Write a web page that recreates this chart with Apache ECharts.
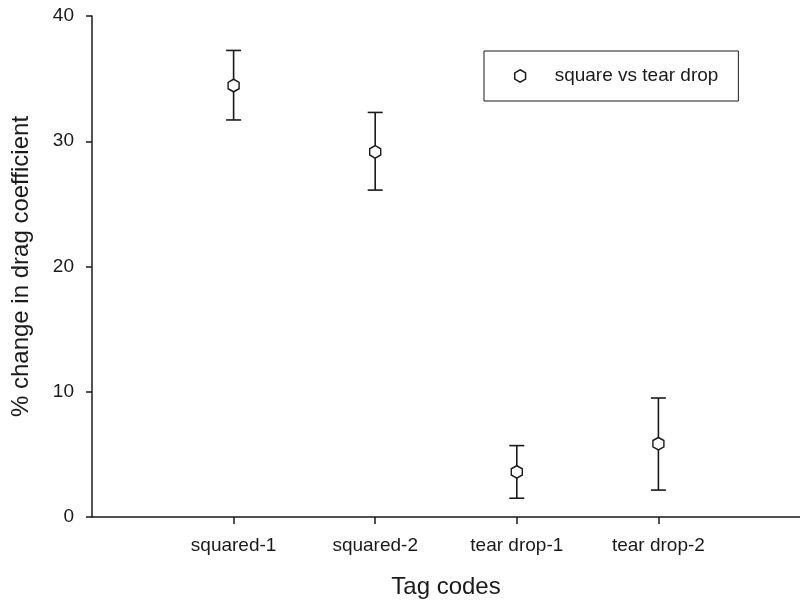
<!DOCTYPE html>
<html>
<head>
<meta charset="utf-8">
<script src="https://cdn.jsdelivr.net/npm/echarts@6/dist/echarts.min.js"></script>
<style>
  html, body { margin: 0; padding: 0; background: #fff; }
  #chart { width: 800px; height: 604px; }
</style>
</head>
<body>
<div id="chart"></div>
<script>
// Tag codes along the x axis (placed at positions 1..4)
const categories = ['squared-1', 'squared-2', 'tear drop-1', 'tear drop-2'];
// Mean % change in drag coefficient and its error bar ends
const means = [34.45, 29.15, 3.6, 5.85];
const upper = [37.25, 32.3, 5.7, 9.5];
const lower = [31.7, 26.1, 1.5, 2.15];
const yTicks = [0, 10, 20, 30, 40];
const seriesName = 'square vs tear drop';

const FONT = "'Liberation Sans', Arial, sans-serif";
const INK = '#1a1a1a';
const HEX = 'path://M0,-1 L0.866,-0.5 L0.866,0.5 L0,1 L-0.866,0.5 L-0.866,-0.5 Z';

const positions = categories.map((_, i) => i + 1);
const pointData = means.map((m, i) => [positions[i], m]);
const barData = means.map((_, i) => [positions[i], lower[i], upper[i]]);

const chart = echarts.init(document.getElementById('chart'), null, { renderer: 'canvas' });

chart.setOption({
  animation: false,
  backgroundColor: '#fff',
  grid: { left: 92, top: 16, bottom: 85, width: 716.5, containLabel: false },
  legend: {
    left: 484, top: 51,
    orient: 'vertical',
    data: [{ name: seriesName, icon: HEX }],
    itemWidth: 11, itemHeight: 12.5,
    padding: [14, 20, 14, 30],
    borderColor: INK, borderWidth: 1,
    textStyle: { fontFamily: FONT, fontSize: 19, color: INK, padding: [0, 0, 0, 24], lineHeight: 22 },
    itemStyle: { color: '#fff', borderColor: INK, borderWidth: 1.5 }
  },
  xAxis: {
    type: 'value', min: 0, max: 5, interval: 1,
    name: 'Tag codes', nameLocation: 'middle', nameGap: 58,
    nameTextStyle: { fontFamily: FONT, fontSize: 24, color: INK },
    axisLine: { lineStyle: { color: INK, width: 1.5 } },
    axisTick: { length: 7, lineStyle: { color: INK, width: 1.5 }, customValues: positions },
    axisLabel: {
      fontFamily: FONT, fontSize: 19, color: INK, margin: 19,
      customValues: positions,
      formatter: v => categories[Math.round(v) - 1] || ''
    },
    splitLine: { show: false }
  },
  yAxis: {
    type: 'value', min: yTicks[0], max: yTicks[yTicks.length - 1], interval: 10,
    name: '% change in drag coefficient', nameLocation: 'middle', nameGap: 59,
    nameTextStyle: { fontFamily: FONT, fontSize: 24, color: INK },
    axisLine: { show: true, lineStyle: { color: INK, width: 1.5 } },
    axisTick: { show: true, length: 6, lineStyle: { color: INK, width: 1.5 } },
    axisLabel: { fontFamily: FONT, fontSize: 19, color: INK, margin: 18 },
    splitLine: { show: false }
  },
  series: [
    {
      name: seriesName + ' error',
      type: 'custom',
      data: barData,
      encode: { x: 0, y: [1, 2] },
      renderItem: (params, api) => {
        const x = api.value(0);
        const lo = api.coord([x, api.value(1)]);
        const hi = api.coord([x, api.value(2)]);
        const cap = 7.5;
        const style = { stroke: INK, lineWidth: 1.6, fill: null };
        return {
          type: 'group',
          children: [
            { type: 'line', shape: { x1: lo[0], y1: lo[1], x2: hi[0], y2: hi[1] }, style },
            { type: 'line', shape: { x1: hi[0] - cap, y1: hi[1], x2: hi[0] + cap, y2: hi[1] }, style },
            { type: 'line', shape: { x1: lo[0] - cap, y1: lo[1], x2: lo[0] + cap, y2: lo[1] }, style }
          ]
        };
      },
      z: 2
    },
    {
      name: seriesName,
      type: 'scatter',
      data: pointData,
      symbol: HEX,
      symbolSize: [11, 12.5],
      itemStyle: { color: '#fff', borderColor: INK, borderWidth: 1.5, opacity: 1 },
      z: 3
    }
  ]
});
</script>
</body>
</html>
